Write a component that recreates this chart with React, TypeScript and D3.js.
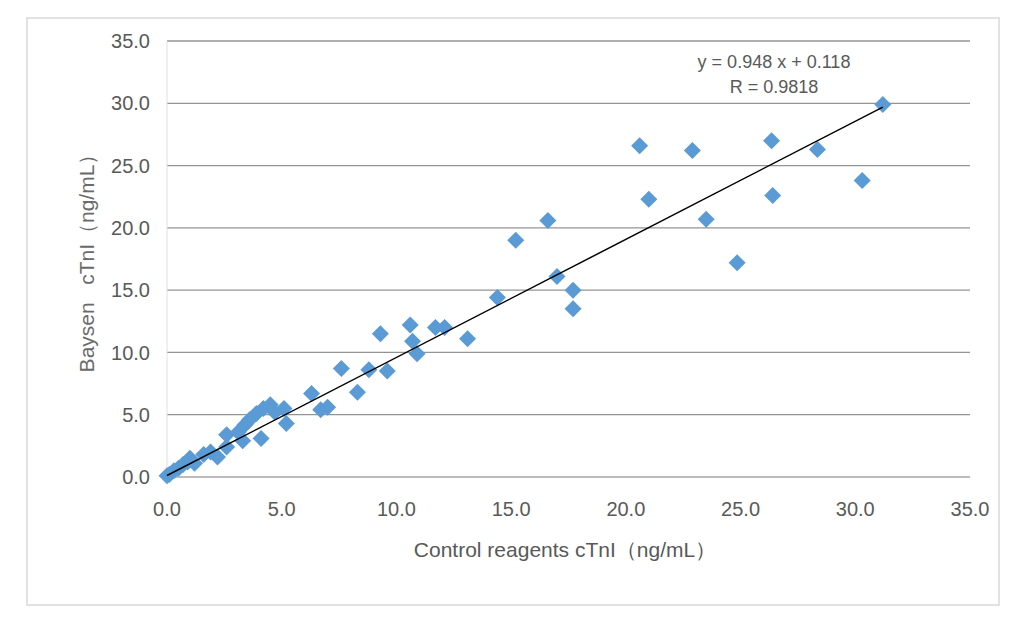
import React from "react";
import * as d3 from "d3";

const controlValues: number[] = [
  0.0, 0.1, 0.3, 0.5, 0.7, 0.9, 1.0, 1.2, 1.6, 1.9, 2.2, 2.6, 2.6, 3.1, 3.3, 3.4, 3.6, 3.9,
  4.1, 4.2, 4.5, 4.7, 5.1, 5.2, 6.3, 6.7, 7.0, 7.6, 8.3, 8.8, 9.3, 9.6, 10.6, 10.7, 10.9,
  11.7, 12.1, 13.1, 14.4, 15.2, 16.6, 17.0, 17.7, 17.7, 20.6, 21.0, 22.9, 23.5, 24.85,
  26.35, 26.4, 28.35, 30.3, 31.2,
];
const baysenValues: number[] = [
  0.1, 0.2, 0.5, 0.7, 1.0, 1.2, 1.5, 1.1, 1.8, 2.0, 1.6, 2.4, 3.4, 3.6, 2.9, 4.2, 4.6, 5.1,
  3.1, 5.5, 5.8, 5.2, 5.5, 4.3, 6.7, 5.4, 5.6, 8.7, 6.8, 8.6, 11.5, 8.5, 12.2, 10.9, 9.9,
  12.0, 12.0, 11.1, 14.4, 19.0, 20.6, 16.1, 15.0, 13.5, 26.6, 22.3, 26.2, 20.7, 17.2,
  27.0, 22.6, 26.3, 23.8, 29.9,
];
const xTicks: number[] = [0, 5, 10, 15, 20, 25, 30, 35];
const yTicks: number[] = [0, 5, 10, 15, 20, 25, 30, 35];
const slope = 0.948;
const intercept = 0.118;
const equationText = "y = 0.948 x + 0.118";
const rText = "R = 0.9818";
const xTitle = "Control reagents cTnI（ng/mL）";
const yTitle = "Baysen\u00a0\u00a0 cTnI（ng/mL）";

const W = 1026;
const H = 622;
const plot = { left: 167, right: 970, top: 41, bottom: 477 };

export default function App() {
  const x = d3.scaleLinear().domain([0, 35]).range([plot.left, plot.right]);
  const y = d3.scaleLinear().domain([0, 35]).range([plot.bottom, plot.top]);
  const fmt = d3.format(".1f");
  const points = controlValues.map((v, i) => ({ x: v, y: baysenValues[i] }));
  const xMin = d3.min(controlValues) as number;
  const xMax = d3.max(controlValues) as number;
  const trend = d3.line<number>()
    .x((d) => x(d))
    .y((d) => y(slope * d + intercept))([xMin, xMax]);
  const r = 8.5;
  const diamond = `M0,${-r}L${r},0L0,${r}L${-r},0Z`;
  const font = "'Liberation Sans', Arial, sans-serif";

  return (
    <div style={{ position: "absolute", left: 0, top: 0 }}>
      <svg width={W} height={H} style={{ display: "block", background: "#fff" }}>
        <rect x={27} y={18} width={972} height={587} fill="#fff" stroke="#d9d9d9" strokeWidth={1.5} />
        {yTicks.map((t) => (
          <line key={"g" + t} x1={plot.left} x2={plot.right} y1={y(t)} y2={y(t)}
            stroke={t === 0 ? "#a6a6a6" : "#949494"} strokeWidth={1.3} />
        ))}
        <line x1={plot.left} x2={plot.left} y1={plot.top} y2={plot.bottom} stroke="#e0e0e0" strokeWidth={1} />
        {yTicks.map((t) => (
          <text key={"yt" + t} x={150} y={y(t)} dy="0.36em" textAnchor="end"
            fontFamily={font} fontSize={20} fill="#595959">{fmt(t)}</text>
        ))}
        {xTicks.map((t) => (
          <text key={"xt" + t} x={x(t)} y={509} dy="0.36em" textAnchor="middle"
            fontFamily={font} fontSize={20} fill="#595959">{fmt(t)}</text>
        ))}
        <text x={565} y={549} dy="0.36em" textAnchor="middle" fontFamily={font} fontSize={21} fill="#595959">{xTitle}</text>
        <text transform={`translate(86,258) rotate(-90)`} dy="0.36em" textAnchor="middle"
          fontFamily={font} fontSize={21} fill="#6a6a6a">{yTitle}</text>
        {points.map((p, i) => (
          <path key={"p" + i} d={diamond} transform={`translate(${x(p.x)},${y(p.y)})`} fill="#5b9bd5" />
        ))}
        <path d={trend || ""} stroke="#000" strokeWidth={1.5} fill="none" />
        <text x={774} y={62} dy="0.36em" textAnchor="middle" fontFamily={font} fontSize={18} fill="#595959">{equationText}</text>
        <text x={774} y={87} dy="0.36em" textAnchor="middle" fontFamily={font} fontSize={18} fill="#595959">{rText}</text>
      </svg>
    </div>
  );
}
